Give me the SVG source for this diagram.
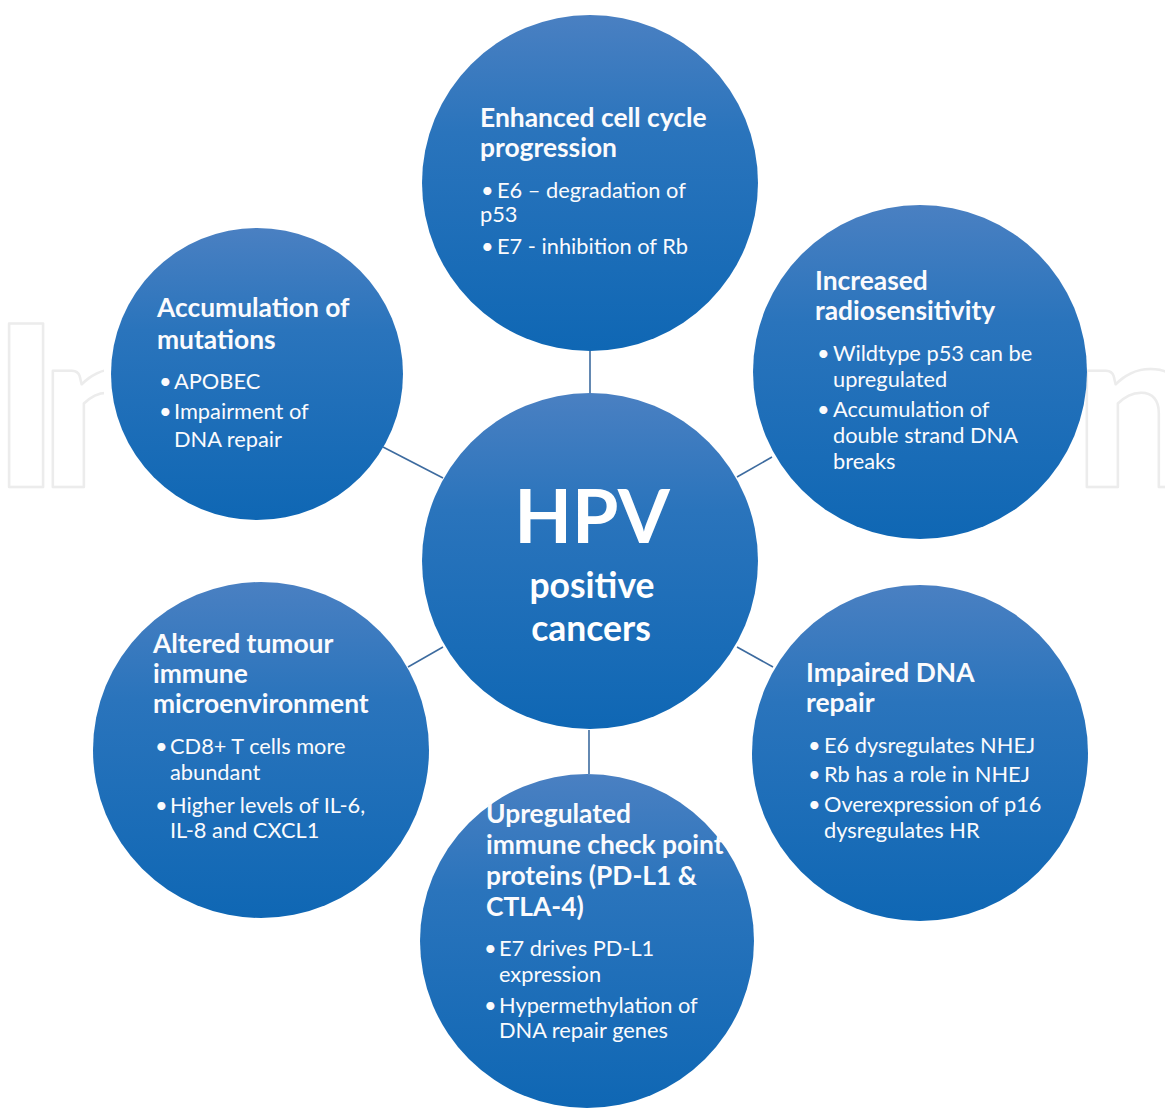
<svg xmlns="http://www.w3.org/2000/svg" width="1165" height="1108" viewBox="0 0 1165 1108">
  <defs>
    <linearGradient id="bubble" x1="0" y1="0" x2="0" y2="1">
      <stop offset="0" stop-color="#4a80c2"/>
      <stop offset="0.35" stop-color="#2a74bc"/>
      <stop offset="1" stop-color="#0f67b4"/>
    </linearGradient>
    <!-- only the outer ends of the lettering stay uncovered -->
    <clipPath id="mark-clip">
      <rect x="0" y="300" width="104" height="200"/>
      <rect x="1038" y="300" width="127" height="200"/>
    </clipPath>
    <style>
      .bubble { fill: url(#bubble); }
      .link { stroke: #3d6b9f; stroke-width: 1.6; fill: none; }
      .head { font-family: Lato, "Open Sans", sans-serif; font-weight: 700; font-size: 26.4px; fill: #fbfbfd; }
      .item { font-family: Lato, "Open Sans", sans-serif; font-weight: 400; font-size: 21.8px; fill: #fbfbfd; }
      .core { font-family: Lato, "Open Sans", sans-serif; font-weight: 700; fill: #ffffff; }
      .mark { font-family: Lato, "Open Sans", sans-serif; font-weight: 900; font-size: 225px; fill: none; stroke: #ececec; stroke-width: 2.5; stroke-linejoin: round; }
    </style>
  </defs>

  <rect width="1165" height="1108" fill="#ffffff"/>

  <!-- faint publisher lettering behind the bubbles -->
  <g clip-path="url(#mark-clip)">
    <text class="mark" x="-8 40 170 250 380 490 620 810 940 1074" y="487">IntechOpen</text>
  </g>

  <!-- spokes from the hub to each outer bubble -->
  <g id="connectors">
    <line class="link" x1="590" y1="351" x2="590" y2="393"/>
    <line class="link" x1="383" y1="447" x2="443" y2="478"/>
    <line class="link" x1="737" y1="477" x2="772" y2="457"/>
    <line class="link" x1="408" y1="667" x2="443" y2="647"/>
    <line class="link" x1="737" y1="647" x2="773" y2="667"/>
    <line class="link" x1="589" y1="730" x2="589" y2="774"/>
  </g>

  <g id="hub">
    <circle class="bubble" cx="590" cy="561" r="168"/>
    <text class="core" x="592" y="543" text-anchor="middle" font-size="75">HPV</text>
    <text class="core" x="592" y="598" text-anchor="middle" font-size="35.5">positive</text>
    <text class="core" x="591" y="641" text-anchor="middle" font-size="35.5">cancers</text>
  </g>

  <g id="cell-cycle">
    <circle class="bubble" cx="590" cy="183" r="168"/>
    <text class="head" x="480" y="127">Enhanced cell cycle</text>
    <text class="head" x="480" y="157">progression</text>
    <text class="item" y="198"><tspan x="481">•</tspan><tspan x="497">E6 – degradation of</tspan></text>
    <text class="item" x="480" y="222">p53</text>
    <text class="item" y="254"><tspan x="481">•</tspan><tspan x="497">E7 - inhibition of Rb</tspan></text>
  </g>

  <g id="mutations">
    <circle class="bubble" cx="257" cy="374" r="146"/>
    <text class="head" x="157" y="317">Accumulation of</text>
    <text class="head" x="157" y="349">mutations</text>
    <text class="item" y="389"><tspan x="159">•</tspan><tspan x="174">APOBEC</tspan></text>
    <text class="item" y="419"><tspan x="159">•</tspan><tspan x="174">Impairment of</tspan></text>
    <text class="item" x="174" y="447">DNA repair</text>
  </g>

  <g id="radiosensitivity">
    <circle class="bubble" cx="920" cy="372" r="167"/>
    <text class="head" x="815" y="290">Increased</text>
    <text class="head" x="815" y="320">radiosensitivity</text>
    <text class="item" y="361"><tspan x="817">•</tspan><tspan x="833">Wildtype p53 can be</tspan></text>
    <text class="item" x="833" y="387">upregulated</text>
    <text class="item" y="417"><tspan x="817">•</tspan><tspan x="833">Accumulation of</tspan></text>
    <text class="item" x="833" y="443">double strand DNA</text>
    <text class="item" x="833" y="469">breaks</text>
  </g>

  <g id="microenvironment">
    <circle class="bubble" cx="261" cy="750" r="168"/>
    <text class="head" x="153" y="653">Altered tumour</text>
    <text class="head" x="153" y="683">immune</text>
    <text class="head" x="153" y="713">microenvironment</text>
    <text class="item" y="754"><tspan x="155">•</tspan><tspan x="170">CD8+ T cells more</tspan></text>
    <text class="item" x="170" y="780">abundant</text>
    <text class="item" y="813"><tspan x="155">•</tspan><tspan x="170">Higher levels of IL-6,</tspan></text>
    <text class="item" x="170" y="838">IL-8 and CXCL1</text>
  </g>

  <g id="dna-repair">
    <circle class="bubble" cx="920" cy="753" r="168"/>
    <text class="head" x="806" y="682">Impaired DNA</text>
    <text class="head" x="806" y="712">repair</text>
    <text class="item" y="753"><tspan x="808">•</tspan><tspan x="824">E6 dysregulates NHEJ</tspan></text>
    <text class="item" y="782"><tspan x="808">•</tspan><tspan x="824">Rb has a role in NHEJ</tspan></text>
    <text class="item" y="812"><tspan x="808">•</tspan><tspan x="824">Overexpression of p16</tspan></text>
    <text class="item" x="824" y="838">dysregulates HR</text>
  </g>

  <g id="checkpoints">
    <circle class="bubble" cx="587" cy="941" r="167"/>
    <text class="head" x="486" y="823">Upregulated</text>
    <text class="head" x="486" y="854">immune check point</text>
    <text class="head" x="486" y="885">proteins (PD-L1 &amp;</text>
    <text class="head" x="486" y="916">CTLA-4)</text>
    <text class="item" y="956"><tspan x="484">•</tspan><tspan x="499">E7 drives PD-L1</tspan></text>
    <text class="item" x="499" y="982">expression</text>
    <text class="item" y="1013"><tspan x="484">•</tspan><tspan x="499">Hypermethylation of</tspan></text>
    <text class="item" x="499" y="1038">DNA repair genes</text>
  </g>
</svg>
